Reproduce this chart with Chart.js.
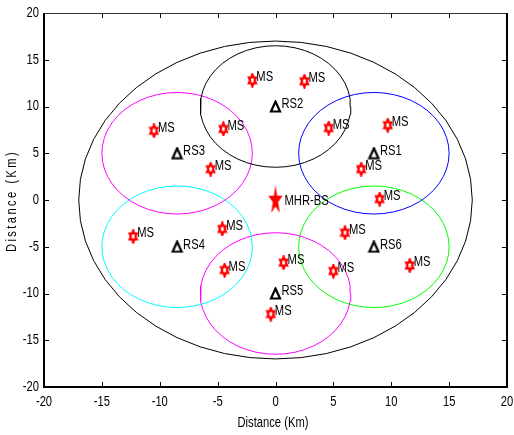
<!DOCTYPE html>
<html>
<head>
<meta charset="utf-8">
<script src="https://cdn.jsdelivr.net/npm/chart.js@4.4.1/dist/chart.umd.min.js"></script>
<style>
  html, body { margin: 0; padding: 0; background: #fff; }
  #wrap { width: 514px; height: 435px; }
</style>
</head>
<body>
<div id="wrap"><canvas id="chart" width="514" height="435"></canvas></div>
<script>
'use strict';

// base station
let bsX = [0];
let bsY = [0];
let bsRadius = 17;

// relay stations RS1..RS6
let rsNames = ['RS1', 'RS2', 'RS3', 'RS4', 'RS5', 'RS6'];
let rsX = [8.5, 0, -8.5, -8.5, 0, 8.5];
let rsY = [5, 10, 5, -5, -10, -5];
let rsRadius = 6.5;
let rsColors = ['#0000ff', '#000000', '#ff00ff', '#00ffff', '#ff00ff', '#00ff00'];

// mobile stations
let msX = [-10.5, -4.5, -5.6, -2.0, 2.5, 4.6, 9.7, 7.4, 9.0, -12.3, -4.6, -4.4, 6.0, 0.7, 5.0, 11.6, -0.4];
let msY = [7.4, 7.6, 3.3, 12.8, 12.7, 7.7, 8.0, 3.3, 0.1, -3.9, -3.1, -7.5, -3.5, -6.7, -7.6, -7.0, -12.2];

let axisTicks = [-20, -15, -10, -5, 0, 5, 10, 15, 20];

const sans = '"Liberation Sans", Arial, sans-serif';
const squeeze = 0.8;

// condensed text: regular face squeezed horizontally
function squeezedText(ctx, text, x, y, size, align, spacing) {
  ctx.save();
  ctx.translate(x, y);
  ctx.scale(squeeze, 1);
  ctx.font = size + 'px ' + sans;
  ctx.textAlign = align;
  ctx.textBaseline = 'middle';
  if (spacing) ctx.letterSpacing = spacing + 'px';
  ctx.fillText(text, 0, 0);
  ctx.restore();
}

// marker images
function makeCanvas(w, h) {
  let c = document.createElement('canvas');
  c.width = w;
  c.height = h;
  return c;
}

function starPath(ctx, n, cx, cy, sx, sy, inner) {
  ctx.beginPath();
  for (let i = 0; i < n * 2; i++) {
    let a = -Math.PI / 2 + i * Math.PI / n;
    let r = i % 2 === 0 ? 1 : inner;
    let px = cx + Math.cos(a) * r * sx;
    let py = cy + Math.sin(a) * r * sy;
    if (i === 0) ctx.moveTo(px, py); else ctx.lineTo(px, py);
  }
  ctx.closePath();
}

let msIcon = makeCanvas(11, 15);
{
  let c = msIcon.getContext('2d');
  starPath(c, 6, 5.5, 7.5, 4.0, 5.8, 1 / Math.sqrt(3));
  c.fillStyle = '#fff';
  c.fill();
  c.strokeStyle = '#ff0000';
  c.lineWidth = 2.4;
  c.lineJoin = 'miter';
  c.stroke();
}

let bsIcon = makeCanvas(16, 30);
{
  let c = bsIcon.getContext('2d');
  starPath(c, 5, 8, 15.5, 7.4, 15.4, 0.382);
  c.fillStyle = '#ff0000';
  c.fill();
}

let rsIcon = makeCanvas(13, 13);
{
  let c = rsIcon.getContext('2d');
  c.beginPath();
  c.moveTo(6.5, 1.5);
  c.lineTo(11, 11.5);
  c.lineTo(2, 11.5);
  c.closePath();
  c.strokeStyle = '#000';
  c.lineWidth = 2.2;
  c.lineJoin = 'miter';
  c.stroke();
}

// coverage outlines from centre and radius
function ring(cx, cy, r) {
  let pts = [];
  let steps = 48;
  for (let i = 0; i <= steps; i++) {
    let a = i / steps * Math.PI * 2;
    pts.push({x: cx + r * Math.cos(a), y: cy + r * Math.sin(a)});
  }
  return pts;
}

let datasets = [];

datasets.push({
  label: 'MHR-BS',
  data: bsX.map((x, i) => ({x: x, y: bsY[i]})),
  pointStyle: bsIcon,
  tags: ['MHR-BS'],
  tagDx: 9, tagDy: 1,
  order: 0
});

datasets.push({
  label: 'RS',
  data: rsX.map((x, i) => ({x: x, y: rsY[i]})),
  pointStyle: rsIcon,
  tags: rsNames,
  tagDx: 6, tagDy: -2,
  order: 0
});

datasets.push({
  label: 'MS',
  data: msX.map((x, i) => ({x: x, y: msY[i]})),
  pointStyle: msIcon,
  tags: msX.map(() => 'MS'),
  tagDx: 4, tagDy: -3,
  order: 0
});

datasets.push({
  label: 'BS range',
  data: ring(bsX[0], bsY[0], bsRadius),
  showLine: true,
  borderColor: '#000',
  borderWidth: 1,
  pointRadius: 0,
  order: 2
});

for (let i = 0; i < rsX.length; i++) {
  datasets.push({
    label: rsNames[i] + ' range',
    data: ring(rsX[i], rsY[i], rsRadius),
    showLine: true,
    borderColor: rsColors[i],
    borderWidth: 1,
    pointRadius: 0,
    order: 1
  });
}

// MS / RS / BS text tags next to markers
const tagPlugin = {
  id: 'tags',
  afterDatasetsDraw(chart) {
    let ctx = chart.ctx;
    ctx.fillStyle = '#000';
    chart.data.datasets.forEach((ds, di) => {
      if (!ds.tags) return;
      let meta = chart.getDatasetMeta(di);
      meta.data.forEach((pt, j) => {
        squeezedText(ctx, ds.tags[j], pt.x + ds.tagDx, pt.y + ds.tagDy, 14, 'left');
      });
    });
  }
};

// box with inward ticks on all four sides, tick labels and axis titles
const framePlugin = {
  id: 'frame',
  afterDraw(chart) {
    let ctx = chart.ctx;
    let a = chart.chartArea;
    let xs = chart.scales.x;
    let ys = chart.scales.y;
    ctx.save();
    ctx.strokeStyle = '#000';
    ctx.lineWidth = 1;
    ctx.beginPath();
    for (let i = 1; i < axisTicks.length - 1; i++) {
      let px = Math.round(xs.getPixelForValue(axisTicks[i])) + 0.5;
      ctx.moveTo(px, a.bottom); ctx.lineTo(px, a.bottom - 5);
      ctx.moveTo(px, a.top); ctx.lineTo(px, a.top + 5);
      let py = Math.round(ys.getPixelForValue(axisTicks[i])) + 0.5;
      ctx.moveTo(a.left, py); ctx.lineTo(a.left + 5, py);
      ctx.moveTo(a.right, py); ctx.lineTo(a.right - 5, py);
    }
    ctx.stroke();

    ctx.strokeStyle = '#333';
    ctx.beginPath();
    ctx.moveTo(a.left, a.top + 0.5);
    ctx.lineTo(a.right, a.top + 0.5);
    ctx.stroke();

    ctx.strokeStyle = '#000';
    ctx.lineWidth = 2;
    ctx.beginPath();
    ctx.moveTo(a.left, a.top);
    ctx.lineTo(a.left, a.bottom);
    ctx.lineTo(a.right, a.bottom);
    ctx.lineTo(a.right, a.top);
    ctx.stroke();

    ctx.fillStyle = '#000';
    axisTicks.forEach(v => {
      squeezedText(ctx, String(v), xs.getPixelForValue(v), a.bottom + 15, 14, 'center');
      squeezedText(ctx, String(v), a.left - 5, ys.getPixelForValue(v), 14, 'right');
    });

    squeezedText(ctx, 'Distance (Km)', 273, 423, 14, 'center');

    ctx.translate(12, 201);
    ctx.rotate(-Math.PI / 2);
    squeezedText(ctx, 'Distance (Km)', 0, 0, 14, 'center', 3);
    ctx.restore();
  }
};

let canvasElem = document.getElementById('chart');

const myChart = new Chart(canvasElem, {
  type: 'scatter',
  data: { datasets: datasets },
  plugins: [tagPlugin, framePlugin],
  options: {
    responsive: false,
    animation: false,
    layout: { padding: { left: 0, right: 7, top: 13, bottom: 0 } },
    plugins: {
      legend: { display: false },
      tooltip: { enabled: false }
    },
    scales: {
      x: {
        type: 'linear',
        min: -20,
        max: 20,
        afterFit(scale) { scale.height = 48; },
        grid: { display: false },
        border: { display: false },
        ticks: { display: false }
      },
      y: {
        type: 'linear',
        min: -20,
        max: 20,
        afterFit(scale) { scale.width = 44; },
        grid: { display: false },
        border: { display: false },
        ticks: { display: false }
      }
    }
  }
});
</script>
</body>
</html>
